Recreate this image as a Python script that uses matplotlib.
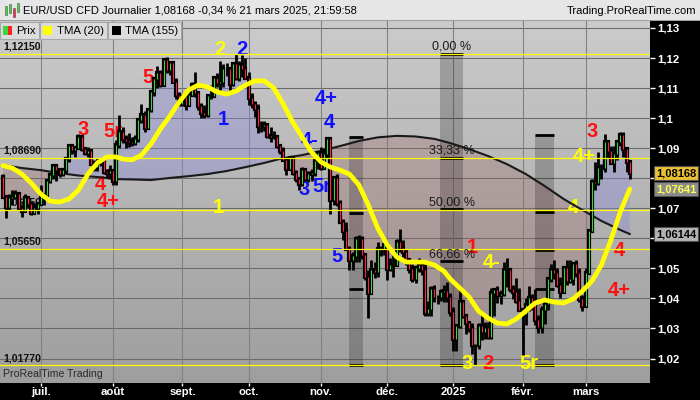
import numpy as np
import matplotlib
matplotlib.use("Agg")
import matplotlib.pyplot as plt
from matplotlib.patches import Rectangle, Polygon
from matplotlib.colors import LinearSegmentedColormap
from matplotlib import transforms

# ---------------- data (daily EUR/USD CFD, 13 Jun 2024 -> 21 Mar 2025) ----------------
first_open = 1.0805
closes = [
    1.0739, 1.0704, 1.0733, 1.0739, 1.0747, 1.0702, 1.0692, 1.0733, 1.0714, 1.0683,
    1.0701, 1.0713, 1.0740, 1.0743, 1.0790, 1.0810, 1.0840, 1.0826, 1.0813, 1.0828,
    1.0865, 1.0907, 1.0893, 1.0900, 1.0938, 1.0897, 1.0883, 1.0890, 1.0848, 1.0838,
    1.0850, 1.0857, 1.0820, 1.0817, 1.0825, 1.0790, 1.0910, 1.0953, 1.0930, 1.0923,
    1.0920, 1.0916, 1.0932, 1.0993, 1.1012, 1.0966, 1.1026, 1.1086, 1.1130, 1.1150,
    1.1111, 1.1193, 1.1160, 1.1183, 1.1120, 1.1078, 1.1047, 1.1070, 1.1045, 1.1078,
    1.1110, 1.1083, 1.1040, 1.1018, 1.1011, 1.1074, 1.1074, 1.1133, 1.1116, 1.1119,
    1.1163, 1.1164, 1.1112, 1.1180, 1.1133, 1.1177, 1.1164, 1.1135, 1.1068, 1.1047,
    1.1030, 1.0975, 1.0975, 1.0978, 1.0942, 1.0936, 1.0937, 1.0907, 1.0891, 1.0862,
    1.0830, 1.0867, 1.0817, 1.0797, 1.0781, 1.0826, 1.0797, 1.0815, 1.0817, 1.0856,
    1.0883, 1.0835, 1.0880, 1.0930, 1.0729, 1.0800, 1.0718, 1.0654, 1.0625, 1.0564,
    1.0529, 1.0541, 1.0597, 1.0597, 1.0543, 1.0472, 1.0418, 1.0495, 1.0488, 1.0566,
    1.0565, 1.0578, 1.0499, 1.0510, 1.0512, 1.0587, 1.0567, 1.0554, 1.0527, 1.0498,
    1.0466, 1.0502, 1.0512, 1.0493, 1.0351, 1.0364, 1.0430, 1.0406, 1.0404, 1.0422,
    1.0426, 1.0405, 1.0354, 1.0266, 1.0307, 1.0388, 1.0341, 1.0317, 1.0300, 1.0244,
    1.0244, 1.0308, 1.0289, 1.0300, 1.0273, 1.0417, 1.0429, 1.0411, 1.0414, 1.0495,
    1.0494, 1.0431, 1.0422, 1.0391, 1.0362, 1.0347, 1.0379, 1.0403, 1.0381, 1.0329,
    1.0306, 1.0362, 1.0382, 1.0465, 1.0494, 1.0484, 1.0444, 1.0421, 1.0501, 1.0459,
    1.0465, 1.0513, 1.0486, 1.0398, 1.0375, 1.0486, 1.0625, 1.0789, 1.0785, 1.0833,
    1.0833, 1.0919, 1.0889, 1.0852, 1.0880, 1.0922, 1.0943, 1.0898, 1.0855, 1.08168,
]
highs = [
    1.0814, 1.0741, 1.0747, 1.0762, 1.0761, 1.0750, 1.0712, 1.0747, 1.0741, 1.0721,
    1.0717, 1.0720, 1.0776, 1.0748, 1.0798, 1.0816, 1.0845, 1.0845, 1.0829, 1.0835,
    1.0871, 1.0910, 1.0910, 1.0906, 1.0948, 1.0944, 1.0905, 1.0904, 1.0894, 1.0860,
    1.0869, 1.0869, 1.0862, 1.0830, 1.0845, 1.0830, 1.0926, 1.1009, 1.0970, 1.0944,
    1.0949, 1.0937, 1.0945, 1.1000, 1.1047, 1.1023, 1.1031, 1.1092, 1.1137, 1.1174,
    1.1161, 1.1201, 1.1202, 1.1190, 1.1188, 1.1133, 1.1088, 1.1082, 1.1076, 1.1089,
    1.1120, 1.1155, 1.1089, 1.1050, 1.1045, 1.1079, 1.1109, 1.1139, 1.1150, 1.1190,
    1.1180, 1.1182, 1.1167, 1.1186, 1.1214, 1.1189, 1.1209, 1.1199, 1.1154, 1.1083,
    1.1058, 1.1047, 1.0990, 1.0990, 1.0981, 1.0970, 1.0957, 1.0942, 1.0914, 1.0905,
    1.0871, 1.0871, 1.0870, 1.0826, 1.0799, 1.0838, 1.0834, 1.0823, 1.0832, 1.0870,
    1.0885, 1.0905, 1.0902, 1.0937, 1.0937, 1.0805, 1.0815, 1.0726, 1.0666, 1.0654,
    1.0576, 1.0556, 1.0608, 1.0611, 1.0609, 1.0550, 1.0496, 1.0528, 1.0520, 1.0589,
    1.0575, 1.0596, 1.0570, 1.0535, 1.0545, 1.0597, 1.0630, 1.0595, 1.0555, 1.0530,
    1.0514, 1.0507, 1.0534, 1.0521, 1.0516, 1.0391, 1.0443, 1.0444, 1.0413, 1.0433,
    1.0444, 1.0456, 1.0418, 1.0371, 1.0315, 1.0437, 1.0395, 1.0345, 1.0324, 1.0317,
    1.0250, 1.0317, 1.0353, 1.0320, 1.0322, 1.0434, 1.0434, 1.0443, 1.0428, 1.0521,
    1.0533, 1.0498, 1.0446, 1.0467, 1.0436, 1.0365, 1.0402, 1.0442, 1.0415, 1.0430,
    1.0344, 1.0375, 1.0397, 1.0472, 1.0513, 1.0528, 1.0501, 1.0471, 1.0505, 1.0528,
    1.0528, 1.0522, 1.0527, 1.0500, 1.0412, 1.0501, 1.0628, 1.0797, 1.0855, 1.0888,
    1.0847, 1.0947, 1.0918, 1.0907, 1.0907, 1.0928, 1.0955, 1.0953, 1.0903, 1.0860,
]
lows = [
    1.0735, 1.0668, 1.0695, 1.0712, 1.0730, 1.0697, 1.0671, 1.0690, 1.0700, 1.0677,
    1.0680, 1.0681, 1.0710, 1.0710, 1.0730, 1.0785, 1.0797, 1.0790, 1.0803, 1.0806,
    1.0816, 1.0855, 1.0880, 1.0872, 1.0900, 1.0892, 1.0876, 1.0870, 1.0843, 1.0825,
    1.0825, 1.0840, 1.0813, 1.0802, 1.0796, 1.0777, 1.0779, 1.0902, 1.0918, 1.0901,
    1.0904, 1.0908, 1.0912, 1.0922, 1.0984, 1.0953, 1.0970, 1.1020, 1.1074, 1.1100,
    1.1104, 1.1106, 1.1150, 1.1145, 1.1116, 1.1063, 1.1042, 1.1040, 1.1026, 1.1042,
    1.1073, 1.1070, 1.1027, 1.1002, 1.1002, 1.1003, 1.1063, 1.1070, 1.1103, 1.1091,
    1.1103, 1.1139, 1.1083, 1.1106, 1.1126, 1.1123, 1.1137, 1.1134, 1.1043, 1.1033,
    1.1004, 1.0951, 1.0955, 1.0956, 1.0935, 1.0920, 1.0929, 1.0902, 1.0882, 1.0860,
    1.0811, 1.0831, 1.0812, 1.0786, 1.0761, 1.0774, 1.0791, 1.0788, 1.0790, 1.0806,
    1.0831, 1.0828, 1.0847, 1.0869, 1.0682, 1.0712, 1.0708, 1.0653, 1.0595, 1.0560,
    1.0496, 1.0496, 1.0520, 1.0522, 1.0530, 1.0462, 1.0335, 1.0427, 1.0467, 1.0471,
    1.0540, 1.0546, 1.0460, 1.0491, 1.0472, 1.0508, 1.0555, 1.0539, 1.0510, 1.0485,
    1.0456, 1.0450, 1.0489, 1.0478, 1.0343, 1.0343, 1.0343, 1.0388, 1.0382, 1.0390,
    1.0389, 1.0388, 1.0343, 1.0226, 1.0224, 1.0302, 1.0335, 1.0282, 1.0287, 1.0214,
    1.0178, 1.0231, 1.0263, 1.0264, 1.0266, 1.0266, 1.0340, 1.0386, 1.0382, 1.0408,
    1.0437, 1.0420, 1.0397, 1.0386, 1.0357, 1.0212, 1.0310, 1.0357, 1.0363, 1.0312,
    1.0285, 1.0284, 1.0314, 1.0362, 1.0455, 1.0464, 1.0439, 1.0400, 1.0419, 1.0446,
    1.0450, 1.0444, 1.0473, 1.0387, 1.0358, 1.0377, 1.0481, 1.0622, 1.0762, 1.0777,
    1.0796, 1.0822, 1.0868, 1.0847, 1.0822, 1.0862, 1.0908, 1.0870, 1.0821, 1.0797,
]

# TMA(20) (bar index, value)
tma20_idx = [0, 3, 6, 9, 12, 15, 18, 21, 24, 27, 30, 33, 36, 38, 41, 44, 47, 50, 53, 56,
             59, 62, 65, 68, 71, 74, 77, 80, 83, 86, 89, 92, 95, 98, 101, 104, 107, 110,
             113, 116, 119, 122, 125, 128, 131, 134, 137, 140, 142, 145, 148, 151, 154,
             157, 160, 163, 166, 169, 172, 175, 178, 181, 184, 187, 190, 193, 196, 199]
tma20_val = [1.0842, 1.0834, 1.0814, 1.0784, 1.0748, 1.0724, 1.0721, 1.0731, 1.0761, 1.0814,
             1.0851, 1.0871, 1.0871, 1.0864, 1.0861, 1.0877, 1.0914, 1.0964, 1.1007, 1.1054,
             1.1094, 1.1110, 1.1104, 1.1087, 1.1080, 1.1090, 1.1110, 1.1124, 1.1124, 1.1100,
             1.1047, 1.0987, 1.0937, 1.0887, 1.0854, 1.0837, 1.0827, 1.0814, 1.0778, 1.0711,
             1.0634, 1.0578, 1.0538, 1.0521, 1.0521, 1.0521, 1.0511, 1.0491, 1.0465, 1.0435,
             1.0405, 1.0358, 1.0335, 1.0318, 1.0315, 1.0332, 1.0358, 1.0385, 1.0395, 1.0388,
             1.0385, 1.0398, 1.0425, 1.0458, 1.0511, 1.0594, 1.0688, 1.07641]

# TMA(155) (bar index, value)
tma155_idx = [0, 6, 12, 18, 24, 30, 36, 41, 47, 53, 59, 65, 71, 77, 83, 89, 95, 101, 107,
              113, 119, 125, 131, 137, 142, 148, 154, 160, 166, 172, 178, 184, 190, 196, 199]
tma155_val = [1.0844, 1.0834, 1.0827, 1.0817, 1.0809, 1.0804, 1.0797, 1.0796, 1.0794, 1.0801,
              1.0807, 1.0814, 1.0824, 1.0837, 1.0851, 1.0867, 1.0877, 1.0891, 1.0907, 1.0924,
              1.0936, 1.0941, 1.0939, 1.0931, 1.0917, 1.0897, 1.0874, 1.0847, 1.0814, 1.0774,
              1.0731, 1.0694, 1.0658, 1.0628, 1.06144]

month_idx = [12, 35, 57, 78, 101, 122, 143, 165, 185]
month_labels = ['juil.', 'août', 'sept.', 'oct.', 'nov.', 'déc.', '2025', 'févr.', 'mars']

# right-axis ticks (labels 1,08 and 1,06 are hidden behind the value boxes)
price_ticks = [1.13, 1.12, 1.11, 1.10, 1.09, 1.08, 1.07, 1.06, 1.05, 1.04, 1.03, 1.02]
price_tick_labels = ['1,13', '1,12', '1,11', '1,1', '1,09', '', '1,07', '',
                     '1,05', '1,04', '1,03', '1,02']

# horizontal levels (yellow) and their labels
level_prices = [1.12150, 1.08690, 1.06950, 1.05650, 1.01770]
level_labels = ['1,12150', '1,08690', '1,06950', '1,05650', '1,01770']

# fibonacci zones: (first bar, last bar, level prices)
zone_starts = [109.8, 138.8, 168.9]
zone_ends = [114.3, 146.1, 175.1]
zone_levels = [[1.0937, 1.0684, 1.0430, 1.0177],
               [1.1215, 1.0869, 1.0696, 1.0523, 1.0177],
               [1.0945, 1.0689, 1.0561, 1.0433, 1.0177]]
fib_texts = ['0,00 %', '33,33 %', '50,00 %', '66,66 %']
fib_text_prices = [1.1215, 1.0869, 1.0696, 1.0523]

# wave labels: text, bar index, price, colour name
wave_text = ['3', '5r', '4', '4+', '5', '1', '2', '3', '4', '4+',
             '2', '1', '3', '4-', '5r', '4+', '4',
             '2', '1', '4+', '4', '4-', '3', '5r', '5']
wave_idx = [25.4, 35.0, 30.8, 33.4, 46.1, 148.9, 154.0, 187.0, 195.8, 195.8,
            69.0, 68.3, 147.3, 155.2, 167.0, 184.5, 181.0,
            75.9, 69.9, 102.6, 103.5, 97.4, 95.6, 101.3, 106.1]
wave_price = [1.0961, 1.0954, 1.0778, 1.0721, 1.1134, 1.0568, 1.0182, 1.0954, 1.0558, 1.0428,
              1.1227, 1.0701, 1.0182, 1.0521, 1.0185, 1.0871, 1.0701,
              1.1230, 1.0997, 1.1067, 1.0987, 1.0924, 1.0761, 1.0771, 1.0538]
wave_col = ['r'] * 10 + ['y'] * 7 + ['b'] * 8

last_price = 1.08168
last_tma20 = 1.07641
last_tma155 = 1.06144

# ---------------- figure ----------------
W, H = 700, 400
fig = plt.figure(figsize=(7, 4), dpi=100, facecolor='black')
ax = fig.add_axes([0, 17 / H, 650 / W, 363 / H])
XMIN, XMAX = -0.92, 205.43
YMIN, YMAX = 1.01186, 1.13266
ax.set_xlim(XMIN, XMAX)
ax.set_ylim(YMIN, YMAX)
for s in ax.spines.values():
    s.set_visible(False)

cmap = LinearSegmentedColormap.from_list('bg', ['#cbcbcb', '#9e9e9e'])
ax.imshow(np.linspace(0, 1, 256).reshape(-1, 1), cmap=cmap, aspect='auto',
          extent=[XMIN, XMAX, YMIN, YMAX], origin='upper', zorder=0)

for p in price_ticks:
    ax.axhline(p, color='#6a6a6a', lw=0.75, zorder=1)
for m in month_idx:
    ax.axvline(m, color='#808080', lw=0.75, zorder=1)

x = np.arange(len(closes))
c = np.array(closes)
o = np.array([first_open] + closes[:-1])
h = np.maximum(np.array(highs), np.maximum(o, c))
l = np.minimum(np.array(lows), np.minimum(o, c))

# fill between close and TMA(155)
pts = list(zip(tma155_idx, tma155_val))
above = Polygon([(XMIN - 5, tma155_val[0])] + pts +
                [(XMAX + 5, tma155_val[-1]), (XMAX + 5, YMAX + 1), (XMIN - 5, YMAX + 1)],
                closed=True, transform=ax.transData)
below = Polygon([(XMIN - 5, tma155_val[0])] + pts +
                [(XMAX + 5, tma155_val[-1]), (XMAX + 5, YMIN - 1), (XMIN - 5, YMIN - 1)],
                closed=True, transform=ax.transData)
fb1 = ax.fill_between(x, c, YMIN - 1, color='#8c8cd8', alpha=0.40, lw=0, zorder=2)
fb1.set_clip_path(above)
fb2 = ax.fill_between(x, c, YMAX + 1, color='#a06868', alpha=0.30, lw=0, zorder=2)
fb2.set_clip_path(below)

# fibonacci zones
for xs, xe, lv in zip(zone_starts, zone_ends, zone_levels):
    ax.add_patch(Rectangle((xs, lv[-1]), xe - xs, lv[0] - lv[-1], facecolor='black',
                           alpha=0.2, lw=0, zorder=2.5))
    ax.hlines(lv, xs, xe, color='black', lw=2.0, zorder=2.6)

bl = transforms.blended_transform_factory(ax.transAxes, ax.transData)
for p, lab in zip(level_prices, level_labels):
    ax.annotate(lab, xy=(0, p), xycoords=bl, xytext=(3, 4), textcoords='offset pixels',
                ha='left', va='baseline', fontsize=7.6, fontweight='bold',
                family='Liberation Sans', color='#111111', zorder=3)

colmap = {'r': '#ff1010', 'y': '#ffff00', 'b': '#1010ff'}
for t, xi, yp, cc in zip(wave_text, wave_idx, wave_price, wave_col):
    ax.text(xi, yp, t, color=colmap[cc], fontsize=14.5, fontweight='bold',
            family='Liberation Sans', ha='center', va='center', zorder=3.5)

ax.plot(tma155_idx, tma155_val, color='#1a1a1a', lw=1.5, zorder=4.5,
        solid_joinstyle='round')

# candles
ax.vlines(x, l, h, color='black', lw=2.0, zorder=5)
ax.vlines(x, np.minimum(o, c), np.maximum(o, c), color='black', lw=3.0, zorder=5,
          capstyle='projecting')
up = c >= o
ax.vlines(x[up], o[up], c[up], color='#3ad83a', lw=0.8, zorder=5.1)
ax.vlines(x[~up], c[~up], o[~up], color='#ff2050', lw=0.8, zorder=5.1)

for p in level_prices:
    ax.axhline(p, color='#ffff00', lw=0.9, zorder=5.5)

ax.plot(tma20_idx, tma20_val, color='#ffff00', lw=3.4, zorder=6,
        solid_joinstyle='round', solid_capstyle='round')

zone2_mid = (zone_starts[1] + zone_ends[1]) / 2
for t, p in zip(fib_texts, fib_text_prices):
    ax.annotate(t, xy=(zone2_mid, p), xytext=(0, 4), textcoords='offset pixels',
                ha='center', va='baseline', fontsize=9, family='Liberation Sans',
                color='#1a1a1a', zorder=7)

ax.annotate('ProRealTime Trading', xy=(0, 0), xycoords='axes fraction', xytext=(3, 4),
            textcoords='offset pixels', ha='left', va='bottom', fontsize=7.6,
            family='Liberation Sans', color='#2a2a2a', zorder=7)

# axes ticks
ax.yaxis.tick_right()
ax.set_yticks(price_ticks)
ax.set_yticklabels(price_tick_labels)
ax.tick_params(axis='y', colors='white', length=3.5, width=1, direction='out', pad=2,
               labelsize=8.2)
ax.set_xticks(month_idx)
ax.set_xticklabels(month_labels)
ax.tick_params(axis='x', colors='white', length=2, width=1, direction='out', pad=1,
               labelsize=8.2)
for lab in ax.get_yticklabels() + ax.get_xticklabels():
    lab.set_fontweight('bold')
    lab.set_family('Liberation Sans')

# value boxes on the right axis
for val, fc, tc in [(last_price, '#e8c032', 'black'), (last_tma20, '#8c8c8c', '#ffff50'),
                    (last_tma155, '#b4b4b4', 'black')]:
    ax.annotate(('%.5f' % val).replace('.', ','), xy=(1, val), xycoords=bl,
                xytext=(6, 0), textcoords='offset pixels', ha='left', va='center',
                fontsize=8, fontweight='bold', family='Liberation Sans', color=tc,
                bbox=dict(boxstyle='square,pad=0.18', fc=fc, ec='#505050', lw=0.8),
                annotation_clip=False, zorder=10)

# header
def fx(px):
    return px / W

def fy(py):
    return 1 - py / H

fig.patches.append(Rectangle((0, fy(20)), 1, 20 / H, transform=fig.transFigure,
                             facecolor='#e6e6e6', edgecolor='none', zorder=1))
fig.patches.append(Rectangle((0, fy(20.5)), 1, 1 / H, transform=fig.transFigure,
                             facecolor='#a0a0a0', edgecolor='none', zorder=1))
for (x0, y0, y1, colr) in [(5, 6, 15, '#3ad83a'), (9, 4, 13, '#3ad83a'),
                           (13, 8, 17, '#ff2050'), (17, 3, 12, '#3ad83a')]:
    fig.patches.append(Rectangle((fx(x0), fy(y1)), 2.2 / W, (y1 - y0) / H,
                                 transform=fig.transFigure, facecolor=colr,
                                 edgecolor='#555555', lw=0.4, zorder=2))
fig.text(fx(23), fy(10.5), 'EUR/USD CFD Journalier 1,08168 -0,34 % 21 mars 2025, 21:59:58',
         ha='left', va='center', fontsize=8.05, family='Liberation Sans', color='black')
fig.text(fx(696), fy(10.5), 'Trading.ProRealTime.com', ha='right', va='center',
         fontsize=8.05, family='Liberation Sans', color='black')

# legend boxes
legend_boxes = [(0, 39, 'Prix'), (40, 107, 'TMA (20)'), (108, 181, 'TMA (155)')]
for (bx0, bx1, txt) in legend_boxes:
    fig.patches.append(Rectangle((fx(bx0), fy(39)), (bx1 - bx0) / W, 17 / H,
                                 transform=fig.transFigure, facecolor='#dcdcdc',
                                 edgecolor='#a8a8a8', lw=0.8, zorder=3))
icons = [(3, '#3ad83a', '#ff2020'), (43, '#ffff00', '#ffff00'), (112, '#000000', '#000000')]
for (ix, c1, c2) in icons:
    fig.patches.append(Rectangle((fx(ix), fy(35)), 4.5 / W, 9 / H, transform=fig.transFigure,
                                 facecolor=c1, edgecolor='none', zorder=4))
    fig.patches.append(Rectangle((fx(ix + 4.5), fy(35)), 4.5 / W, 9 / H,
                                 transform=fig.transFigure, facecolor=c2,
                                 edgecolor='none', zorder=4))
for (tx0, txt) in [(16, 'Prix'), (57, 'TMA (20)'), (125, 'TMA (155)')]:
    fig.text(fx(tx0), fy(30.5), txt, ha='left', va='center', fontsize=8.2,
             family='Liberation Sans', color='black', zorder=5)

fig.savefig('out.png', dpi=100, facecolor='black')
